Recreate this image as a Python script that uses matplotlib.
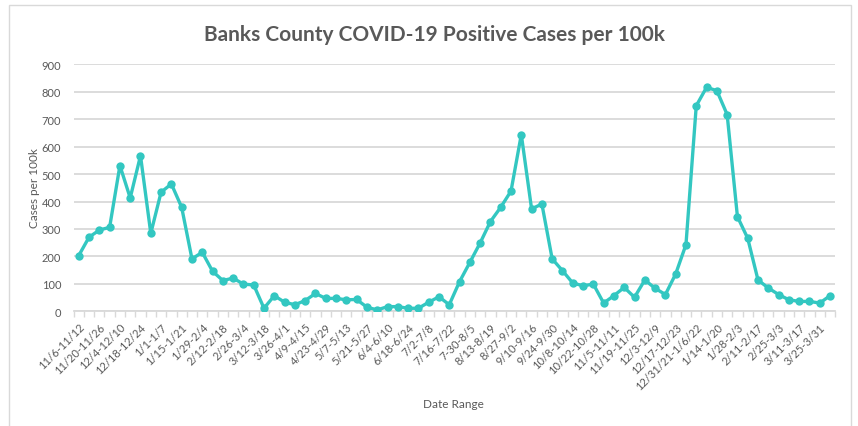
import matplotlib
matplotlib.use("Agg")
import matplotlib.pyplot as plt
from matplotlib.patches import Rectangle

# weekly cases per 100k, 11/6/2020 .. 4/7/2022
semanas = ["11/6-11/12", "11/13-11/19", "11/20-11/26", "11/27-12/3", "12/4-12/10",
           "12/11-12/17", "12/18-12/24", "12/25-12/31", "1/1-1/7", "1/8-1/14",
           "1/15-1/21", "1/22-1/28", "1/29-2/4", "2/5-2/11", "2/12-2/18",
           "2/19-2/25", "2/26-3/4", "3/5-3/11", "3/12-3/18", "3/19-3/25",
           "3/26-4/1", "4/2-4/8", "4/9-4/15", "4/16-4/22", "4/23-4/29",
           "4/30-5/6", "5/7-5/13", "5/14-5/20", "5/21-5/27", "5/28-6/3",
           "6/4-6/10", "6/11-6/17", "6/18-6/24", "6/25-7/1", "7/2-7/8",
           "7/9-7/15", "7/16-7/22", "7/23-7/29", "7-30-8/5", "8/6-8/12",
           "8/13-8/19", "8/20-8/26", "8/27-9/2", "9/3-9/9", "9/10-9/16",
           "9/17-9/23", "9/24-9/30", "10/1-10/7", "10/8-10/14", "10/15-10/21",
           "10/22-10/28", "10/29-11/4", "11/5-11/11", "11/12-11/18", "11/19-11/25",
           "11/26-12/2", "12/3-12/9", "12/10-12/16", "12/17-12/23", "12/24-12/30",
           "12/31/21-1/6/22", "1/7-1/13", "1/14-1/20", "1/21-1/27", "1/28-2/3",
           "2/4-2/10", "2/11-2/17", "2/18-2/24", "2/25-3/3", "3/4-3/10",
           "3/11-3/17", "3/18-3/24", "3/25-3/31", "4/1-4/7"]

casos = [203, 270, 296, 306, 531, 413, 567, 284, 434, 464,
         379, 191, 215, 146, 112, 121, 99, 96, 11, 57,
         33, 24, 39, 65, 47, 47, 42, 43, 15, 5,
         17, 17, 11, 11, 33, 53, 24, 108, 178, 249,
         327, 379, 438, 644, 373, 391, 191, 148, 103, 93,
         99, 30, 57, 87, 51, 114, 84, 61, 136, 243,
         749, 816, 804, 717, 345, 266, 114, 85, 61, 42,
         36, 36, 30, 57]

plt.rcParams['font.family'] = ['Lato', 'DejaVu Sans']

gris = '#595959'
turquesa = '#33C7C1'

fig = plt.figure(figsize=(8.58, 4.27), dpi=100)
ax = fig.add_axes([73.6 / 858, 1 - 312.3 / 427, (835.2 - 73.6) / 858, (312.3 - 65.3) / 427])

x = list(range(len(casos)))
ax.plot(x, casos, color=turquesa, linewidth=2.4, marker='o', markersize=6,
        markeredgewidth=0, zorder=3)

ax.set_xlim(-0.5, len(casos) - 0.5)
ax.set_ylim(0, 900)
ax.set_yticks(range(0, 901, 100))
ax.grid(axis='y', color='#d9d9d9', linewidth=1.3)
ax.set_axisbelow(True)

# labels every other week, tick marks between categories
ax.set_xticks(x[::2])
ax.set_xticklabels(semanas[::2], rotation=45, ha='right', va='top',
                   rotation_mode='anchor', fontsize=8, color=gris)
ax.set_xticks([i - 0.5 for i in range(len(casos) + 1)], minor=True)
ax.tick_params(axis='x', which='major', length=0, pad=7)
ax.tick_params(axis='x', which='minor', length=4, color='#d9d9d9', width=1)
ax.tick_params(axis='y', length=0, pad=9, labelsize=8, labelcolor=gris)

for lado in ['top', 'right', 'left']:
    ax.spines[lado].set_visible(False)
ax.spines['bottom'].set_color('#d9d9d9')
ax.spines['bottom'].set_linewidth(1.3)

fig.text(435 / 858, 1 - 35 / 427, 'Banks County COVID-19 Positive Cases per 100k',
         ha='center', va='center', fontsize=15, fontweight='bold', color=gris)
fig.text(35 / 858, 1 - 188 / 427, 'Cases per 100k', rotation=90,
         ha='center', va='center', fontsize=8.5, color=gris)
fig.text(453 / 858, 1 - 405 / 427, 'Date Range', ha='center', va='center',
         fontsize=8.5, color=gris)

fig.add_artist(Rectangle((9 / 858, -0.05), (851 - 9) / 858, 1.05 - 6 / 427,
                         transform=fig.transFigure, fill=False,
                         edgecolor='#d9d9d9', linewidth=1))

fig.savefig('out.png', dpi=100)
